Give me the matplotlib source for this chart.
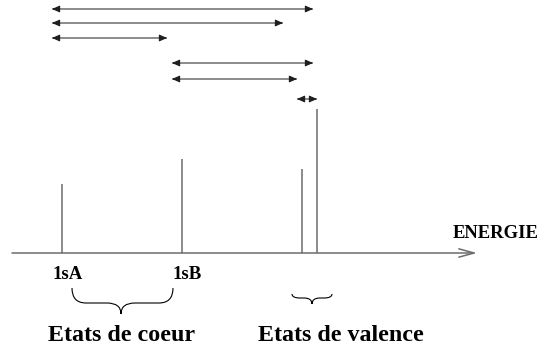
import matplotlib
matplotlib.use("Agg")
import matplotlib.pyplot as plt
from matplotlib.path import Path
from matplotlib.patches import PathPatch

# --- données du schéma (abscisse = énergie, ordonnée = hauteur au-dessus de l'axe) ---
peak_energy = [62, 182, 302, 317]
peak_height = [69, 94, 84, 144]
peak_labels = ["1sA", "1sB"]

# transitions (flèches doubles) : début, fin, niveau
trans_start = [52, 52, 52, 172, 172, 297]
trans_end = [313, 283, 167, 313, 297, 317]
trans_level = [244, 230, 215, 190, 174, 154]

group_names = ["Etats de coeur", "Etats de valence"]
group_left = [72, 292]
group_right = [173, 332]

LINE = "#6c6c6c"
HEAD = "#1e1e1e"
FONT = "Liberation Serif"


def brace(ax, x0, x1, xm, ytop, yflat, ytip, r):
    """Accolade horizontale pointant vers le bas."""
    verts = [
        (x0, ytop), (x0, yflat), (x0 + r, yflat),
        (xm - r, yflat),
        (xm, yflat), (xm, ytip),
        (xm, yflat), (xm + r, yflat),
        (x1 - r, yflat),
        (x1, yflat), (x1, ytop),
    ]
    codes = [Path.MOVETO, Path.CURVE3, Path.CURVE3, Path.LINETO,
             Path.CURVE3, Path.CURVE3, Path.CURVE3, Path.CURVE3,
             Path.LINETO, Path.CURVE3, Path.CURVE3]
    ax.add_patch(PathPatch(Path(verts, codes), fill=False, lw=0.8, color="black"))


fig = plt.figure(figsize=(5.43, 3.52), dpi=100)
ax = fig.add_axes([0, 0, 1, 1])
ax.set_xlim(0, 543)
ax.set_ylim(-99, 253)
ax.axis("off")

# --- 1. Axe des énergies ---
ax.annotate("", xy=(477, 0), xytext=(12, 0),
            arrowprops=dict(arrowstyle="->,head_length=1.1,head_width=0.3",
                            color=LINE, lw=1.1, shrinkA=0, shrinkB=0,
                            mutation_scale=10))
ax.text(453, 15.3, "ENERGIE", fontsize=13.4, fontweight="bold",
        family=FONT, ha="left", va="baseline")

# --- 2. Pics ---
ax.vlines(peak_energy, 0, peak_height, color=LINE, lw=1.1)
for e, lab in zip(peak_energy, peak_labels):
    ax.text(e - 9, -26, lab, fontsize=13.5, fontweight="bold",
            family=FONT, ha="left", va="baseline")

# --- 3. Transitions ---
for s, e, lv in zip(trans_start, trans_end, trans_level):
    ax.plot([s, e], [lv, lv], color=LINE, lw=1.1, solid_capstyle="butt")
    for tip, tail in ((e, e - 6), (s, s + 6)):
        ax.annotate("", xy=(tip, lv), xytext=(tail, lv),
                    arrowprops=dict(arrowstyle="-|>,head_length=0.45,head_width=0.2",
                                    color=HEAD, lw=0.8, shrinkA=0, shrinkB=0,
                                    mutation_scale=10))

# --- 4. Accolades et groupes ---
brace(ax, group_left[0], group_right[0], 121, -35, -50, -61, 14)
brace(ax, group_left[1], group_right[1], 312, -41, -45, -51, 8)
ax.text(48, -87.7, group_names[0], fontsize=17.3, fontweight="bold",
        family=FONT, ha="left", va="baseline")
ax.text(258, -87.7, group_names[1], fontsize=17.3, fontweight="bold",
        family=FONT, ha="left", va="baseline")

fig.savefig("out.png", dpi=100)
